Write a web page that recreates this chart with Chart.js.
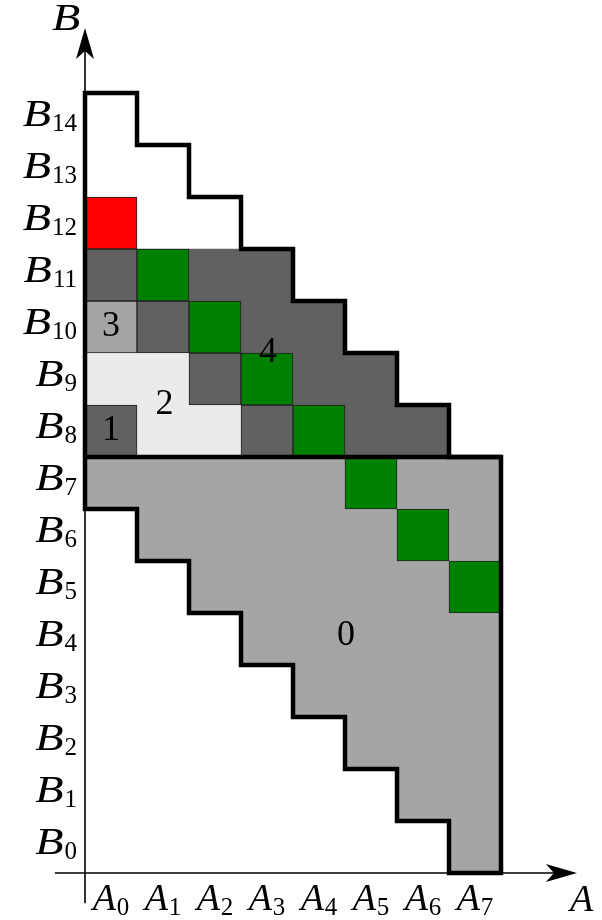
<!DOCTYPE html>
<html>
<head>
<meta charset="utf-8">
<title>A-B grid</title>
<script src="https://cdn.jsdelivr.net/npm/chart.js"></script>
<style>
  html, body { margin: 0; padding: 0; background: #fff; }
  #wrap { width: 602px; height: 920px; }
</style>
</head>
<body>
<div id="wrap"><canvas id="grid-chart" width="602" height="920"></canvas></div>
<script>
"use strict";

// tick labels
var colLabels = ["A0", "A1", "A2", "A3", "A4", "A5", "A6", "A7"];
var rowLabels = ["B0", "B1", "B2", "B3", "B4", "B5", "B6", "B7",
  "B8", "B9", "B10", "B11", "B12", "B13", "B14"];

// region 0 (rows B0..B7): column span [from, to)
var region0Rows = [0, 1, 2, 3, 4, 5, 6, 7];
var region0From = [7, 6, 5, 4, 3, 2, 1, 0];
var region0To = [8, 8, 8, 8, 8, 8, 8, 8];

// region 4 (rows B8..B11), drawn under the other cells
var region4Rows = [8, 9, 10, 11];
var region4From = [0, 0, 0, 0];
var region4To = [7, 6, 5, 4];

// region 2
var region2Rows = [8, 9];
var region2From = [1, 0];
var region2To = [3, 2];

// single cells as [column, row]
var darkCells = [[0, 8], [3, 8], [2, 9], [1, 10], [0, 11]];
var region3Cells = [[0, 10]];
var greenCells = [[7, 5], [6, 6], [5, 7], [4, 8], [3, 9], [2, 10], [1, 11]];
var redCells = [[0, 12]];

// thick staircase outline
var outlineX = [0, 0, 1, 1, 2, 2, 3, 3, 4, 4, 5, 5, 6, 6, 7, 7, 8, 8, 7, 7, 6, 6, 5, 5, 4, 4, 3, 3, 2, 2, 1, 1, 0, 0];
var outlineY = [11, 15, 15, 14, 14, 13, 13, 12, 12, 11, 11, 10, 10, 9, 9, 8, 8, 0, 0, 1, 1, 2, 2, 3, 3, 4, 4, 5, 5, 6, 6, 7, 7, 11];
var splitX = [0, 8];
var splitY = [8, 8];

// region numbers
var regionNames = ["0", "1", "2", "3", "4"];
var regionX = [5.02, 0.5, 1.53, 0.5, 3.52];
var regionY = [4.56, 8.5, 9.0, 10.5, 10.0];

// axis reach in grid units (axes overshoot the origin, arrows at the far end)
var axisMin = -0.58;
var xArrowAt = 9.46;
var yArrowAt = 16.25;

function spans(rows, from, to) {
  return rows.map(function (r, i) {
    return { y: r + 0.5, x: [from[i], to[i]] };
  });
}

function cells(list) {
  return list.map(function (c) {
    return { y: c[1] + 0.5, x: [c[0], c[0] + 1] };
  });
}

function path(xs, ys) {
  return xs.map(function (v, i) {
    return { x: v, y: ys[i] };
  });
}

var barBase = {
  type: "bar",
  indexAxis: "y",
  grouped: false,
  barPercentage: 1,
  categoryPercentage: 1,
  borderSkipped: false,
  borderColor: "#222",
  borderWidth: 1,
  clip: false,
};

var lineBase = {
  type: "line",
  borderColor: "#000",
  borderWidth: 4.5,
  borderJoinStyle: "miter",
  pointRadius: 0,
  fill: false,
  clip: false,
};

var letterFont = "italic 38px 'Liberation Serif', serif";
var subFont = "25px 'Liberation Serif', serif";
// the B of the original is a wide math italic
var letterStretch = { A: 1.0, B: 1.22 };

function drawIndexed(ctx, label, xPos, baseline, align) {
  var letter = label.charAt(0);
  var idx = label.slice(1);
  var k = letterStretch[letter] || 1;
  ctx.font = letterFont;
  var lw = ctx.measureText(letter).width * k;
  ctx.font = subFont;
  var sw = idx ? ctx.measureText(idx).width : 0;
  var gap = 1;
  var left = xPos;
  if (align === "right") left = xPos - lw - gap - sw;
  else if (align === "center") left = xPos - (lw + gap + sw) / 2;
  ctx.textAlign = "left";
  ctx.textBaseline = "alphabetic";
  ctx.font = letterFont;
  ctx.save();
  ctx.translate(left, baseline);
  ctx.scale(k, 1);
  ctx.fillText(letter, 0, 0);
  ctx.restore();
  if (idx) {
    ctx.font = subFont;
    ctx.fillText(idx, left + lw + gap, baseline + 5);
  }
}

// axes with arrows, tick labels and region numbers
var gridLabels = {
  id: "gridLabels",
  afterDatasetsDraw: function (chart) {
    var ctx = chart.ctx;
    var sx = chart.scales.x;
    var sy = chart.scales.y;
    ctx.save();
    ctx.fillStyle = "#000";
    ctx.font = "36px 'Liberation Serif', serif";
    ctx.textAlign = "center";
    ctx.textBaseline = "middle";
    regionNames.forEach(function (n, i) {
      ctx.fillText(n, sx.getPixelForValue(regionX[i]), sy.getPixelForValue(regionY[i]));
    });
    ctx.restore();
  },
  afterDraw: function (chart) {
    var ctx = chart.ctx;
    var sx = chart.scales.x;
    var sy = chart.scales.y;
    var x0 = sx.getPixelForValue(0);
    var y0 = sy.getPixelForValue(0);
    var xTip = sx.getPixelForValue(xArrowAt);
    var yTip = sy.getPixelForValue(yArrowAt);

    ctx.save();
    ctx.strokeStyle = "#000";
    ctx.fillStyle = "#000";
    ctx.lineWidth = 1.6;
    ctx.beginPath();
    ctx.moveTo(sx.getPixelForValue(axisMin), y0);
    ctx.lineTo(xTip - 22, y0);
    ctx.moveTo(x0, sy.getPixelForValue(axisMin));
    ctx.lineTo(x0, yTip + 22);
    ctx.stroke();

    // arrow heads
    ctx.beginPath();
    ctx.moveTo(xTip, y0);
    ctx.lineTo(xTip - 31, y0 - 9);
    ctx.lineTo(xTip - 23, y0);
    ctx.lineTo(xTip - 31, y0 + 9);
    ctx.closePath();
    ctx.fill();
    ctx.beginPath();
    ctx.moveTo(x0, yTip);
    ctx.lineTo(x0 - 9, yTip + 31);
    ctx.lineTo(x0, yTip + 23);
    ctx.lineTo(x0 + 9, yTip + 31);
    ctx.closePath();
    ctx.fill();

    // tick labels
    rowLabels.forEach(function (lab, j) {
      drawIndexed(ctx, lab, x0 - 8, sy.getPixelForValue(j + 0.5) + 7, "right");
    });
    colLabels.forEach(function (lab, i) {
      drawIndexed(ctx, lab, sx.getPixelForValue(i + 0.5), y0 + 37, "center");
    });

    // axis names
    drawIndexed(ctx, "A", xTip - 7, y0 + 38, "left");
    drawIndexed(ctx, "B", x0 - 33, yTip + 2, "left");
    ctx.restore();
  },
};

var ctx1 = document.getElementById("grid-chart").getContext("2d");

// datasets are painted last-to-first, so the outline comes first
var gridChart = new Chart(ctx1, {
  type: "line",
  data: {
    datasets: [
      Object.assign({}, lineBase, { label: "outline", data: path(outlineX, outlineY) }),
      Object.assign({}, lineBase, { label: "split", data: path(splitX, splitY) }),
      Object.assign({}, barBase, { label: "red", data: cells(redCells), backgroundColor: "#ff0000" }),
      Object.assign({}, barBase, { label: "green", data: cells(greenCells), backgroundColor: "#008000" }),
      Object.assign({}, barBase, { label: "3", data: cells(region3Cells), backgroundColor: "#a5a5a5" }),
      Object.assign({}, barBase, { label: "dark", data: cells(darkCells), backgroundColor: "#616161" }),
      Object.assign({}, barBase, {
        label: "2",
        data: spans(region2Rows, region2From, region2To),
        backgroundColor: "#ebebeb",
        borderWidth: 0,
      }),
      Object.assign({}, barBase, {
        label: "4",
        data: spans(region4Rows, region4From, region4To),
        backgroundColor: "#616161",
        borderWidth: 0,
      }),
      Object.assign({}, barBase, {
        label: "0",
        data: spans(region0Rows, region0From, region0To),
        backgroundColor: "#a5a5a5",
        borderWidth: 0,
      }),
    ],
  },
  options: {
    responsive: false,
    animation: false,
    events: [],
    layout: {
      padding: { left: 85, right: 101, top: 93, bottom: 47 },
    },
    scales: {
      x: { type: "linear", min: 0, max: 8, offset: false, display: false },
      y: { type: "linear", min: 0, max: 15, offset: false, display: false, ticks: { stepSize: 1 } },
    },
    plugins: {
      legend: { display: false },
      tooltip: { enabled: false },
    },
  },
  plugins: [gridLabels],
});
</script>
</body>
</html>
